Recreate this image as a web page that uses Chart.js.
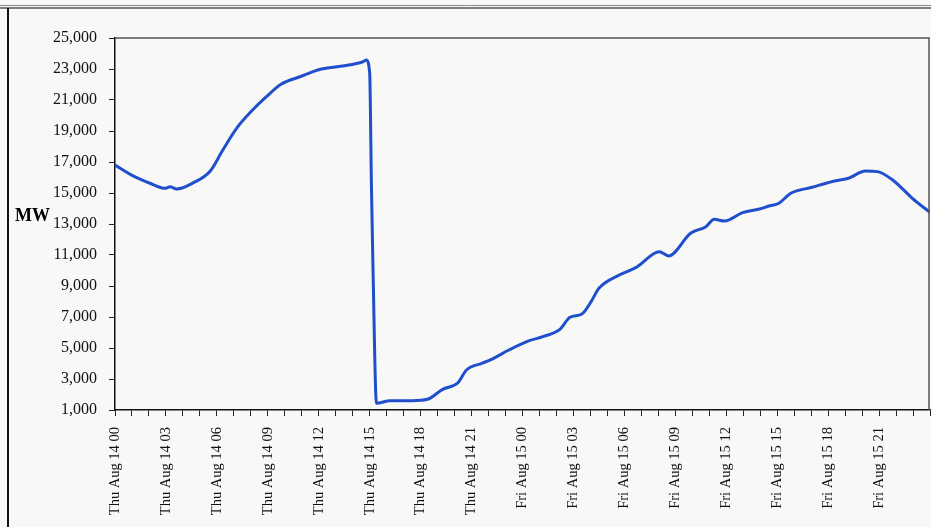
<!DOCTYPE html>
<html>
<head>
<meta charset="utf-8">
<script src="https://cdn.jsdelivr.net/npm/chart.js@4.4.1/dist/chart.umd.min.js"></script>
<style>
  body { margin: 0; background: #f8f8f6; }
  #wrap { width: 931px; height: 527px; }
</style>
</head>
<body>
<div id="wrap"><canvas id="loadChart" width="931" height="527"></canvas></div>
<script>
// hours since Thu Aug 14 00:00, and load in MW
var hours = [0, 1.06, 2.06, 2.94, 3.24, 3.63, 4.6, 5.6, 6.35, 7.16, 8.1, 8.9, 9.8, 10.9, 12.1, 13.4, 14.6, 14.8,
  15.0, 15.1, 15.2, 15.4, 16.2, 17.5, 18.4, 19.3, 20.2, 20.7, 21.6, 22.1, 23.2, 24.4, 25.2, 26.2, 26.8, 27.5, 28.04,
  28.5, 29.7, 30.7, 32.06, 32.6, 33.9, 34.8, 35.3, 35.9, 36.96, 38.1, 38.5, 39.1, 39.8, 41.05, 42.2, 43.2, 44.2,
  44.9, 45.8, 46.96, 48];
var loadMW = [16800, 16100, 15630, 15300, 15400, 15260, 15650, 16400, 17770, 19170, 20350, 21200, 22030, 22500, 22980, 23190, 23470, 23580,
  22740, 15650, 9840, 1430, 1600, 1600, 1690, 2335, 2760, 3580, 4010, 4230, 4870, 5470, 5730, 6200, 6980, 7190, 7990,
  8850, 9710, 10200, 11210, 10940, 12400, 12830, 13300, 13190, 13730, 14010, 14160, 14340, 14980, 15370, 15730, 15950, 16420,
  16380, 15840, 14660, 13750];
var hourLabels = ['Thu Aug 14 00', 'Thu Aug 14 03', 'Thu Aug 14 06', 'Thu Aug 14 09', 'Thu Aug 14 12', 'Thu Aug 14 15',
  'Thu Aug 14 18', 'Thu Aug 14 21', 'Fri Aug 15 00', 'Fri Aug 15 03', 'Fri Aug 15 06', 'Fri Aug 15 09',
  'Fri Aug 15 12', 'Fri Aug 15 15', 'Fri Aug 15 18', 'Fri Aug 15 21'];

var points = hours.map(function (h, i) { return { x: h, y: loadMW[i] }; });

// page frame, plot box and the "MW" label
var framePlugin = {
  id: 'frame',
  beforeDraw: function (chart) {
    var c = chart.ctx;
    c.save();
    c.fillStyle = '#f8f8f6';
    c.fillRect(0, 0, chart.width, chart.height);
    c.strokeStyle = '#888';
    c.lineWidth = 1;
    c.beginPath(); c.moveTo(0, 5.5); c.lineTo(chart.width, 5.5); c.stroke();
    c.strokeStyle = '#555';
    c.lineWidth = 1.5;
    c.beginPath(); c.moveTo(0, 8); c.lineTo(chart.width, 8); c.stroke();
    c.strokeStyle = '#111';
    c.lineWidth = 2;
    c.beginPath(); c.moveTo(8, 8); c.lineTo(8, chart.height); c.stroke();
    c.restore();
  },
  afterDraw: function (chart) {
    var c = chart.ctx, a = chart.chartArea;
    c.save();
    c.strokeStyle = '#555';
    c.lineWidth = 1.5;
    c.beginPath();
    c.moveTo(a.left, a.top); c.lineTo(a.right - 1, a.top); c.lineTo(a.right - 1, a.bottom);
    c.stroke();
    c.fillStyle = '#000';
    c.font = 'bold 18px "Liberation Serif"';
    c.textBaseline = 'alphabetic';
    c.fillText('MW', 15, 221);
    c.restore();
  }
};

var ctx = document.getElementById('loadChart');
var loadChart = new Chart(ctx, {
  type: 'line',
  data: {
    datasets: [{
      data: points,
      borderColor: '#1f4fcc',
      borderWidth: 3,
      pointRadius: 0,
      cubicInterpolationMode: 'monotone',
      fill: false
    }]
  },
  options: {
    responsive: false,
    animation: false,
    layout: { padding: { left: 0, top: 38, right: 1, bottom: 0 } },
    plugins: { legend: { display: false }, tooltip: { enabled: false } },
    scales: {
      x: {
        type: 'linear',
        min: 0,
        max: 48,
        afterFit: function (scale) {
          scale.height = 117;
          scale.paddingLeft = 0;
          scale.paddingRight = 0;
        },
        grid: { drawOnChartArea: false, drawTicks: true, tickLength: 6, color: '#222' },
        border: { color: '#111', width: 1.5 },
        ticks: {
          stepSize: 1,
          autoSkip: false,
          minRotation: 90,
          maxRotation: 90,
          padding: 11,
          color: '#111',
          font: { family: '"Liberation Serif"', size: 14.5 },
          callback: function (v) { return v % 3 === 0 ? (hourLabels[v / 3] || '') : ''; }
        }
      },
      y: {
        min: 1000,
        max: 25000,
        afterFit: function (scale) { scale.width = 115; },
        grid: { drawOnChartArea: false, drawTicks: true, tickLength: 6, color: '#222' },
        border: { color: '#111', width: 1.5 },
        ticks: {
          stepSize: 2000,
          padding: 12,
          color: '#111',
          font: { family: '"Liberation Serif"', size: 16 },
          callback: function (v) { return v.toLocaleString('en-US'); }
        }
      }
    }
  },
  plugins: [framePlugin]
});
</script>
</body>
</html>
